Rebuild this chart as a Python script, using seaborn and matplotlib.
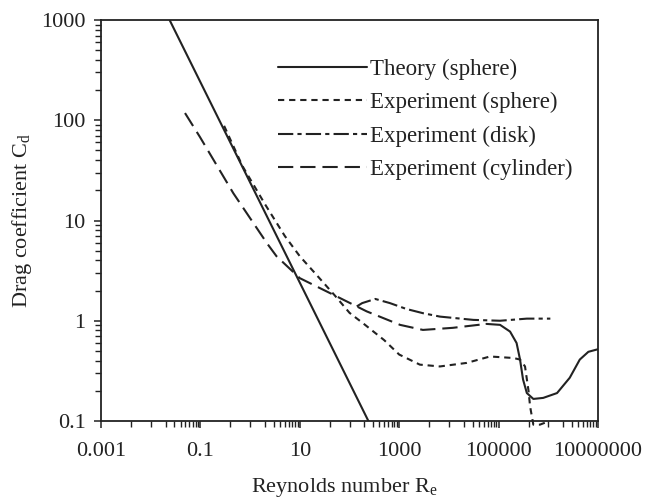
import matplotlib
matplotlib.use("Agg")
import matplotlib.pyplot as plt
import seaborn as sns
from matplotlib.ticker import FixedLocator, FixedFormatter, NullFormatter

# ---------------- data ----------------
theory_re = [0.024, 240]
theory_cd = [1000, 0.1]

sphere_re = [0.3, 0.7, 2.0, 5.0, 10, 20, 50, 100, 200, 500, 1000, 2600, 6600,
             23000, 67000, 2.0e5, 2.7e5, 3.4e5, 4.0e5, 4.3e5, 5.0e5, 6.8e5, 1.0e6]
sphere_cd = [88, 35, 14.5, 7.0, 4.4, 3.0, 1.8, 1.2, 0.92, 0.64, 0.46, 0.365, 0.35,
             0.38, 0.44, 0.425, 0.41, 0.35, 0.20, 0.14, 0.092, 0.092, 0.099]

disk_re = [140, 180, 330, 650, 1400, 3000, 6600, 31000, 1.07e5, 3.7e5, 1.1e6]
disk_cd = [1.39, 1.5, 1.65, 1.5, 1.31, 1.19, 1.10, 1.02, 1.0, 1.05, 1.05]

cyl_re = [0.049, 0.098, 0.46, 2.2, 3.4, 10, 47, 222, 1040, 3000, 12000, 57000,
          1.07e5, 1.7e5, 2.3e5, 2.7e5, 3.1e5, 3.7e5, 5.0e5, 7.9e5, 1.5e6, 2.7e6,
          4.3e6, 6.4e6, 1.0e7]
cyl_cd = [118, 68, 18.7, 5.9, 4.4, 2.66, 1.82, 1.24, 0.91, 0.81, 0.85, 0.93,
          0.91, 0.78, 0.60, 0.41, 0.26, 0.19, 0.166, 0.17, 0.19, 0.27,
          0.41, 0.49, 0.52]
cyl_split = 11  # index where the printed cylinder curve turns solid

labels = ["Theory (sphere)", "Experiment (sphere)",
          "Experiment (disk)", "Experiment (cylinder)"]

x_major = [1e-3, 1e-1, 1e1, 1e3, 1e5, 1e7]
x_major_labels = ["0.001", "0.1", "10", "1000", "100000", "10000000"]
y_major = [0.1, 1, 10, 100, 1000]
y_major_labels = ["0.1", "1", "10", "100", "1000"]

# ---------------- style ----------------
sns.set_style("ticks")
plt.rcParams["font.family"] = ["Liberation Serif", "DejaVu Serif"]
plt.rcParams["mathtext.fontset"] = "custom"
plt.rcParams["mathtext.rm"] = "Liberation Serif"
plt.rcParams["mathtext.it"] = "Liberation Serif:italic"
plt.rcParams["lines.scale_dashes"] = False

INK = "#222222"
LW = 1.5

fig = plt.figure(figsize=(6.47, 5.04), dpi=100)
ax = fig.add_axes([101 / 647, 1 - 421 / 504, 497 / 647, 401 / 504])

common = dict(ax=ax, estimator=None, sort=False, errorbar=None, color=INK, lw=LW)
sns.lineplot(x=theory_re, y=theory_cd, label=labels[0], linestyle="-", **common)
sns.lineplot(x=sphere_re, y=sphere_cd, label=labels[1],
             linestyle=(0, (4.5, 3.5)), clip_on=False, **common)
sns.lineplot(x=disk_re, y=disk_cd, label=labels[2],
             linestyle=(0, (11, 3, 3, 3)), **common)
sns.lineplot(x=cyl_re[:cyl_split + 1], y=cyl_cd[:cyl_split + 1], label=labels[3],
             linestyle=(0, (11, 5)), **common)
sns.lineplot(x=cyl_re[cyl_split:], y=cyl_cd[cyl_split:], label="_nolegend_",
             linestyle="-", **common)

ax.set_xscale("log")
ax.set_yscale("log")
ax.set_xlim(1e-3, 1e7)
ax.set_ylim(0.1, 1000)

# x ticks: labelled every two decades, minor pattern as printed
x_minor = []
for e in range(-3, 7, 2):
    x_minor.append(4 * 10.0 ** e)
    x_minor += [k * 10.0 ** (e + 1) for k in range(1, 10)]
ax.xaxis.set_major_locator(FixedLocator(x_major))
ax.xaxis.set_major_formatter(FixedFormatter(x_major_labels))
ax.xaxis.set_minor_locator(FixedLocator(x_minor))
ax.xaxis.set_minor_formatter(NullFormatter())

y_minor = [k * 10.0 ** e for e in range(-1, 3) for k in range(2, 10)]
ax.yaxis.set_major_locator(FixedLocator(y_major))
ax.yaxis.set_major_formatter(FixedFormatter(y_major_labels))
ax.yaxis.set_minor_locator(FixedLocator(y_minor))
ax.yaxis.set_minor_formatter(NullFormatter())

ax.tick_params(axis="both", which="major", direction="out", length=5, width=1.1,
               color=INK, labelcolor=INK, labelsize=16)
ax.tick_params(axis="x", which="major", pad=10)
ax.tick_params(axis="y", which="major", pad=6)
ax.tick_params(axis="both", which="minor", direction="out", length=4, width=1.0,
               color=INK)
ax.tick_params(top=False, right=False, which="both")

for s in ax.spines.values():
    s.set_linewidth(1.3)
    s.set_color(INK)
    s.set_visible(True)

ax.set_xlabel(r"Reynolds number R$_{\rm e}$", fontsize=16, color=INK, va="center")
ax.set_ylabel(r"Drag coefficient C$_{\rm d}$", fontsize=16, color=INK, va="center")
ax.xaxis.set_label_coords(0.49, -0.167)
ax.yaxis.set_label_coords(-0.158, 0.5)

leg = ax.legend(loc="upper left", bbox_to_anchor=(0.356, 0.903), frameon=False,
                fontsize=16.5, handlelength=3.9, handletextpad=0.1,
                labelspacing=0.53, borderpad=0, borderaxespad=0)
for t in leg.get_texts():
    t.set_color(INK)

fig.savefig("out.png", dpi=100)
